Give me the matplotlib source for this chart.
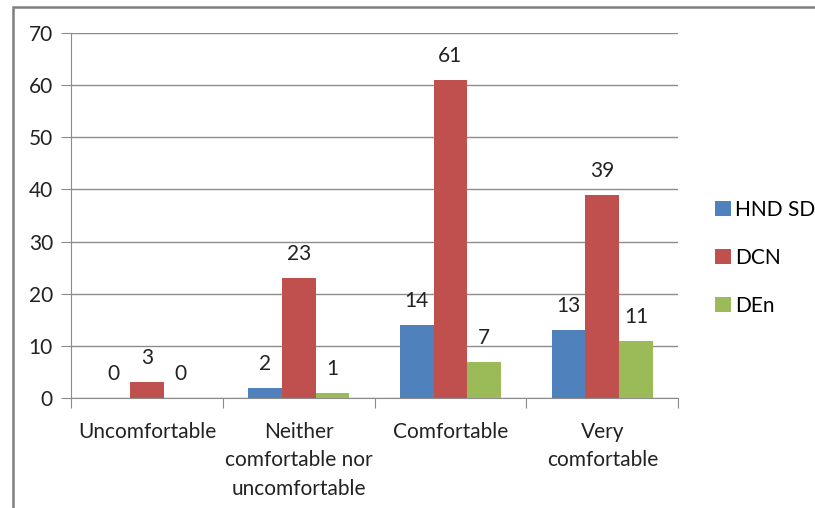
import matplotlib.pyplot as plt
from matplotlib.patches import Rectangle
import numpy as np

categories = ['Uncomfortable', 'Neither\ncomfortable nor\nuncomfortable', 'Comfortable', 'Very\ncomfortable']
series_names = ['HND SD', 'DCN', 'DEn']
hnd_sd = [0, 2, 14, 13]
dcn = [3, 23, 61, 39]
den = [0, 1, 7, 11]
colors = ['#4F81BD', '#C0504D', '#9BBB59']

plt.rcParams['font.family'] = ['Lato', 'DejaVu Sans']
fs = 15

fig = plt.figure(figsize=(8.15, 5.08), dpi=100)
ax = fig.add_axes([0.0871, 0.2165, 0.745, 0.7185])

# chart frame, only the left and top edges fall inside the image
fig.patches.append(Rectangle((13 / 815, -0.1), 1.2, 1.1 - 7 / 508, transform=fig.transFigure,
                             fill=False, edgecolor='#7f7f7f', linewidth=1.8))

x = np.arange(len(categories))
w = 1 / 4.5
for i, (name, vals) in enumerate(zip(series_names, [hnd_sd, dcn, den])):
    bars = ax.bar(x + (i - 1) * w, vals, width=w, color=colors[i], label=name, zorder=3)
    for b, v in zip(bars, vals):
        ax.annotate(str(v), (b.get_x() + b.get_width() / 2, v), xytext=(0, 10),
                    textcoords='offset points', ha='center', va='bottom',
                    fontsize=fs, color='#222222')

ax.set_xlim(-0.5, len(categories) - 0.5)
ax.set_ylim(0, 70)
ax.set_yticks(range(0, 71, 10))
ax.yaxis.grid(True, color='#8c8c8c', linewidth=1, zorder=0)
ax.set_axisbelow(True)

ax.set_xticks(np.arange(-0.5, len(categories), 1))
ax.set_xticklabels([])
ax.set_xticks(x, minor=True)
ax.set_xticklabels(categories, minor=True, fontsize=fs, color='#222222', linespacing=1.55)
ax.tick_params(axis='x', which='minor', length=0, pad=17)
ax.tick_params(axis='x', which='major', length=7, color='#8c8c8c', direction='out')
ax.tick_params(axis='y', length=7, color='#8c8c8c', labelsize=fs, labelcolor='#222222', pad=6)

for s in ['top', 'right']:
    ax.spines[s].set_visible(False)
for s in ['left', 'bottom']:
    ax.spines[s].set_color('#8c8c8c')

ax.legend(loc='center left', bbox_to_anchor=(1.047, 0.384), frameon=False, fontsize=fs,
          handlelength=0.75, handleheight=0.75, handletextpad=0.2, labelspacing=1.35,
          borderaxespad=0)

fig.savefig('out.png', dpi=100)
